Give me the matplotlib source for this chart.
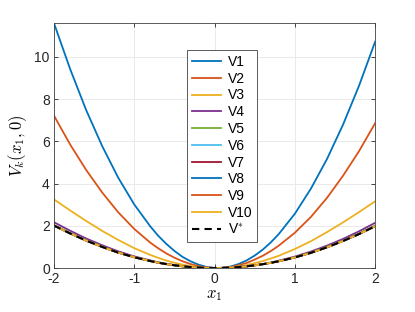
import matplotlib
matplotlib.use("Agg")
import matplotlib.pyplot as plt

x = [-2.0, -1.8, -1.6, -1.4, -1.2, -1.0, -0.8, -0.7, -0.6, -0.5, -0.4, -0.3, -0.2, -0.1, 0.0,
     0.1, 0.2, 0.3, 0.4, 0.5, 0.6, 0.7, 0.8, 1.0, 1.2, 1.4, 1.6, 1.8, 2.0]

V1 = [11.60, 9.44, 7.49, 5.78, 4.28, 3.01, 1.97, 1.52, 1.14, 0.81, 0.53, 0.32, 0.16, 0.05, 0.0,
      0.01, 0.07, 0.19, 0.36, 0.59, 0.87, 1.21, 1.61, 2.57, 3.76, 5.16, 6.79, 8.64, 10.72]
V2 = [7.22, 5.86, 4.65, 3.58, 2.64, 1.85, 1.20, 0.93, 0.69, 0.49, 0.32, 0.19, 0.09, 0.03, 0.0,
      0.01, 0.05, 0.13, 0.24, 0.40, 0.58, 0.80, 1.06, 1.67, 2.42, 3.32, 4.37, 5.54, 6.86]
V3 = [3.25, 2.73, 2.23, 1.76, 1.33, 0.94, 0.62, 0.48, 0.35, 0.25, 0.16, 0.09, 0.04, 0.01, 0.0,
      0.01, 0.03, 0.08, 0.14, 0.23, 0.33, 0.45, 0.58, 0.90, 1.27, 1.70, 2.16, 2.65, 3.16]
V4 = [2.17, 1.77, 1.40, 1.08, 0.79, 0.55, 0.36, 0.27, 0.20, 0.14, 0.09, 0.05, 0.02, 0.005, 0.0,
      0.005, 0.02, 0.05, 0.09, 0.135, 0.19, 0.26, 0.35, 0.54, 0.78, 1.06, 1.38, 1.74, 2.14]
V5 = [2.04, 1.67, 1.32, 1.02, 0.74, 0.52, 0.34, 0.26, 0.19, 0.13, 0.08, 0.045, 0.02, 0.005, 0.0,
      0.005, 0.02, 0.045, 0.08, 0.125, 0.18, 0.25, 0.33, 0.51, 0.73, 1.00, 1.30, 1.64, 2.01]
V6 = [2.02, 1.65, 1.31, 1.01, 0.73, 0.51, 0.33, 0.25, 0.19, 0.13, 0.08, 0.045, 0.02, 0.005, 0.0,
      0.005, 0.02, 0.045, 0.08, 0.125, 0.18, 0.245, 0.32, 0.50, 0.72, 0.99, 1.29, 1.62, 1.99]
V7 = [2.01, 1.64, 1.30, 1.00, 0.73, 0.51, 0.33, 0.25, 0.185, 0.13, 0.08, 0.045, 0.02, 0.005, 0.0,
      0.005, 0.02, 0.045, 0.08, 0.125, 0.18, 0.245, 0.32, 0.50, 0.72, 0.98, 1.28, 1.61, 1.98]
V8 = [2.01, 1.64, 1.30, 1.00, 0.73, 0.51, 0.33, 0.25, 0.185, 0.13, 0.08, 0.045, 0.02, 0.005, 0.0,
      0.005, 0.02, 0.045, 0.08, 0.125, 0.18, 0.245, 0.32, 0.50, 0.72, 0.98, 1.28, 1.61, 1.98]
V9 = [2.01, 1.64, 1.30, 1.00, 0.73, 0.51, 0.33, 0.25, 0.185, 0.13, 0.08, 0.045, 0.02, 0.005, 0.0,
      0.005, 0.02, 0.045, 0.08, 0.125, 0.18, 0.245, 0.32, 0.50, 0.72, 0.98, 1.28, 1.61, 1.98]
V10 = [2.01, 1.64, 1.30, 1.00, 0.73, 0.51, 0.33, 0.25, 0.185, 0.13, 0.08, 0.045, 0.02, 0.005, 0.0,
       0.005, 0.02, 0.045, 0.08, 0.125, 0.18, 0.245, 0.32, 0.50, 0.72, 0.98, 1.28, 1.61, 1.98]
V_star = [2.01, 1.64, 1.30, 1.00, 0.73, 0.51, 0.33, 0.25, 0.185, 0.13, 0.08, 0.045, 0.02, 0.005, 0.0,
          0.005, 0.02, 0.045, 0.08, 0.125, 0.18, 0.245, 0.32, 0.50, 0.72, 0.98, 1.28, 1.61, 1.98]

series = [V1, V2, V3, V4, V5, V6, V7, V8, V9, V10]
labels = ["V1", "V2", "V3", "V4", "V5", "V6", "V7", "V8", "V9", "V10"]
colors = ["#0072BD", "#D95319", "#EDB120", "#7E2F8E", "#77AC30",
          "#4DBEEE", "#A2142F", "#0072BD", "#D95319", "#EDB120"]

xticks = [-2, -1, 0, 1, 2]
yticks = [0, 2, 4, 6, 8, 10]

plt.rcParams["font.family"] = ["Liberation Sans", "DejaVu Sans"]
plt.rcParams["mathtext.fontset"] = "cm"
plt.rcParams["axes.unicode_minus"] = False

fig = plt.figure(figsize=(4.15, 3.12), dpi=100)
ax = fig.add_axes([0.130, 0.141, 0.774, 0.785])

for s, lab, c in zip(series, labels, colors):
    ax.plot(x, s, color=c, lw=1.3, label=lab)
ax.plot(x, V_star, color="black", lw=1.5, ls=(0, (3.5, 2.5)), label="V$^{*}$")

ax.set_xlim(-2, 2)
ax.set_ylim(0, max(V1))
ax.set_xticks(xticks)
ax.set_yticks(yticks)
ax.set_xticklabels([str(t) for t in xticks])
ax.set_yticklabels([str(t) for t in yticks])
ax.grid(True, color="#e6e6e6", lw=0.6)
ax.set_axisbelow(True)
ax.tick_params(direction="in", top=True, right=True, labelsize=10,
               length=3, width=0.6, colors="#262626", pad=3)
for sp in ax.spines.values():
    sp.set_color("#404040")
    sp.set_linewidth(0.6)

ax.set_xlabel("$x_1$", fontsize=12, labelpad=1)
ax.set_ylabel("$V_k(x_1,0)$", fontsize=12, labelpad=4)

leg = ax.legend(loc="upper left", bbox_to_anchor=(0.414, 0.89), fontsize=10,
                frameon=True, fancybox=False, edgecolor="#404040",
                framealpha=1, handlelength=2.1, handletextpad=0.5,
                labelspacing=0.2, borderpad=0.35, borderaxespad=0)
leg.get_frame().set_linewidth(0.6)

fig.savefig("out.png", dpi=100)
